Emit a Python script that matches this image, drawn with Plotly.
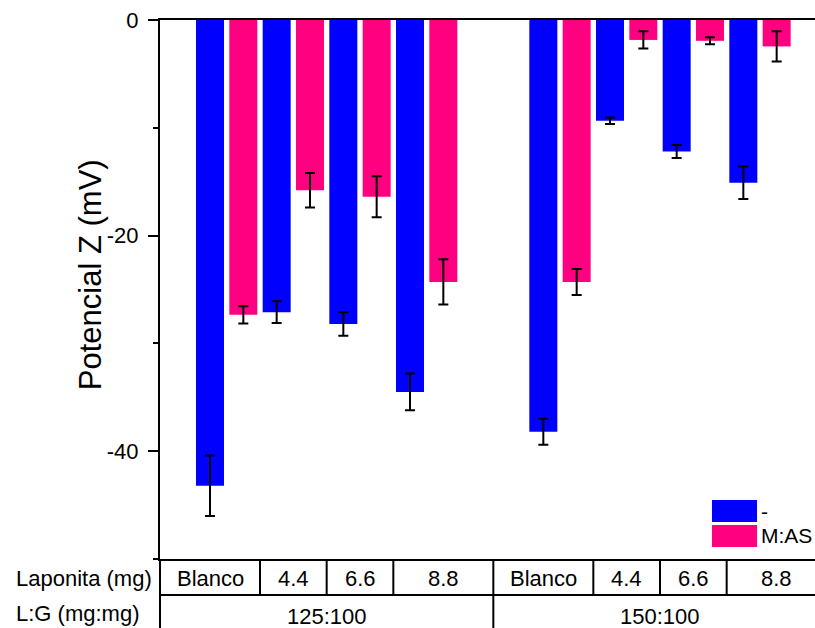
import plotly.graph_objects as go

# ---- data ----
groups = ["125:100", "150:100"]
laponita = ["Blanco", "4.4", "6.6", "8.8"]
series_names = ["-", "M:AS"]
blue_vals = [-43.2, -27.1, -28.2, -34.5, -38.2, -9.35, -12.2, -15.1]
blue_err = [2.8, 1.0, 1.1, 1.7, 1.2, 0.3, 0.6, 1.5]
pink_vals = [-27.35, -15.8, -16.4, -24.3, -24.3, -1.85, -1.93, -2.45]
pink_err = [0.8, 1.6, 1.9, 2.1, 1.2, 0.8, 0.33, 1.4]
y_ticks = [0, -20, -40]
y_ticktext = ["0", "-20", "-40"]
y_minor = [-10, -30, -50]
row_titles = ["Laponita (mg)", "L:G (mg:mg)"]
y_title = "Potencial Z (mV)"

BLUE = "#0000FF"
PINK = "#FF0080"
FONT = "Liberation Sans, Arial, sans-serif"
FS = 22

n = len(laponita)
xpos = [g * (n + 1) + i + 1 for g in range(len(groups)) for i in range(n)]
x_end = len(groups) * (n + 1)

fig = go.Figure()
for name, vals, errs, col, off in [
    (series_names[0], blue_vals, blue_err, BLUE, -0.46),
    (series_names[1], pink_vals, pink_err, PINK, 0.04),
]:
    fig.add_trace(go.Bar(
        x=xpos, y=vals, name=name, width=0.42, offset=off,
        marker=dict(color=col, line=dict(width=0)),
        error_y=dict(type="data", array=errs, color="black", thickness=2, width=5),
        showlegend=False,
    ))

shapes = []
annotations = []
row1_bot = -0.0668
row2_bot = -0.25
for g in range(len(groups)):
    g0 = g * (n + 1)
    edges = [g0] + [g0 + i + 1.5 for i in range(n - 1)] + [g0 + n + 1]
    for k, lab in enumerate(laponita):
        annotations.append(dict(x=(edges[k] + edges[k + 1]) / 2, y=-0.0355, xref="x", yref="paper",
                                text=lab, showarrow=False, xanchor="center", yanchor="middle",
                                font=dict(family=FONT, size=FS, color="black")))
    for e in edges[1:-1]:
        shapes.append(dict(type="line", xref="x", yref="paper", x0=e, x1=e, y0=0, y1=row1_bot,
                           line=dict(color="black", width=2)))
    if g > 0:
        shapes.append(dict(type="line", xref="x", yref="paper", x0=g0, x1=g0, y0=0, y1=row2_bot,
                           line=dict(color="black", width=2)))
    annotations.append(dict(x=(edges[0] + edges[-1]) / 2, y=-0.106, xref="x", yref="paper",
                            text=groups[g], showarrow=False, xanchor="center", yanchor="middle",
                            font=dict(family=FONT, size=FS, color="black")))

shapes.append(dict(type="line", xref="paper", yref="paper", x0=0, x1=1, y0=row1_bot, y1=row1_bot,
                   line=dict(color="black", width=2)))
shapes.append(dict(type="line", xref="paper", yref="paper", x0=0, x1=0, y0=0, y1=row2_bot,
                   line=dict(color="black", width=2)))

for txt, yy in zip(row_titles, [-0.0355, -0.102]):
    annotations.append(dict(x=-0.2229, y=yy, xref="paper", yref="paper", text=txt, showarrow=False,
                            xanchor="left", yanchor="middle",
                            font=dict(family=FONT, size=FS, color="black")))

annotations.append(dict(x=-0.105, y=0.527, xref="paper", yref="paper", text=y_title, showarrow=False,
                        textangle=-90, xanchor="center", yanchor="middle",
                        font=dict(family=FONT, size=31, color="black")))

for (y0, y1, col, name, ty) in [(0.1095, 0.0686, BLUE, series_names[0], 0.089),
                                (0.0631, 0.0223, PINK, series_names[1], 0.0427)]:
    shapes.append(dict(type="rect", xref="paper", yref="paper", x0=0.8427, x1=0.9115, y0=y1, y1=y0,
                       fillcolor=col, line=dict(width=0)))
    annotations.append(dict(x=0.9145, y=ty, xref="paper", yref="paper", text=name, showarrow=False,
                            xanchor="left", yanchor="middle",
                            font=dict(family=FONT, size=21, color="black")))

fig.update_layout(
    width=815, height=628,
    margin=dict(l=160, r=0, t=20, b=69),
    plot_bgcolor="white", paper_bgcolor="white",
    barmode="overlay",
    shapes=shapes, annotations=annotations,
    font=dict(family=FONT, size=FS, color="black"),
    xaxis=dict(range=[0, x_end * 0.9825], showgrid=False, zeroline=False, showticklabels=False,
               ticks="", showline=True, linecolor="black", linewidth=2, mirror=True),
    yaxis=dict(range=[-50, 0], tickvals=y_ticks, ticktext=y_ticktext, ticks="outside", ticklen=10,
               tickwidth=2, tickcolor="black", showline=True, linecolor="black", linewidth=2,
               showgrid=False, zeroline=False, ticklabelstandoff=5,
               tickfont=dict(family=FONT, size=FS, color="black"),
               minor=dict(tickvals=y_minor, ticks="outside", ticklen=5, tickwidth=2, tickcolor="black")),
)

fig.write_html("out.html")
